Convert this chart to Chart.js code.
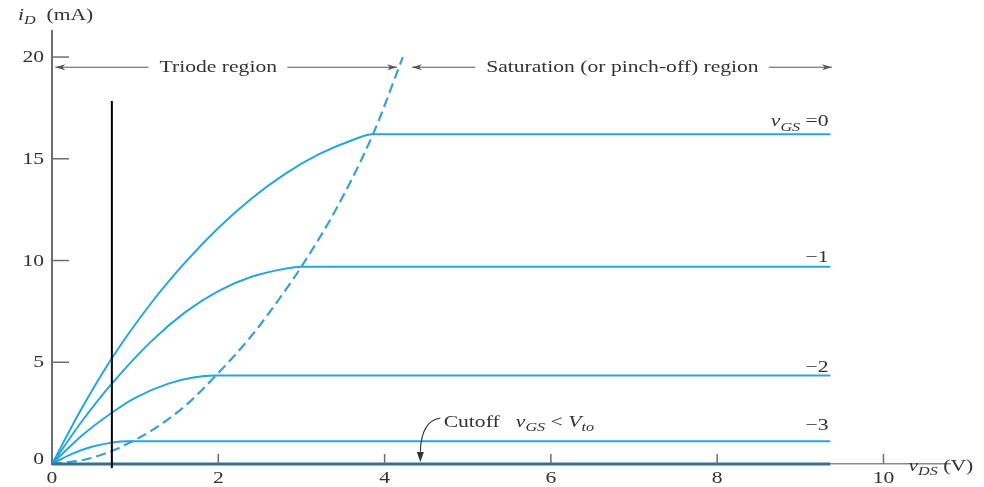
<!DOCTYPE html>
<html>
<head>
<meta charset="utf-8">
<script src="https://cdn.jsdelivr.net/npm/chart.js@4.4.1/dist/chart.umd.min.js"></script>
<style>
  body { margin: 0; background: #fff; }
  #wrap { width: 984px; height: 487px; }
</style>
</head>
<body>
<div id="wrap"><canvas id="fetChart" width="984" height="487"></canvas></div>
<script>
// drain characteristics (vDS in V, iD in mA)
const vgs0V = [0, 0.36, 0.72, 1.2, 1.6, 2.0, 2.4, 2.8, 3.2, 3.6, 3.86, 9.36];
const vgs0I = [0, 2.75, 5.2, 7.95, 9.9, 11.6, 13.05, 14.25, 15.2, 15.9, 16.2, 16.2];

const vgs1V = [0, 0.36, 0.72, 1.2, 1.6, 2.0, 2.4, 2.8, 3.0, 9.36];
const vgs1I = [0, 2.1, 3.95, 6.05, 7.45, 8.5, 9.2, 9.6, 9.7, 9.7];

const vgs2V = [0, 0.36, 0.72, 1.0, 1.4, 1.7, 1.96, 9.36];
const vgs2I = [0, 1.4, 2.52, 3.25, 3.95, 4.25, 4.35, 4.35];

const vgs3V = [0, 0.24, 0.48, 0.72, 0.9, 9.36];
const vgs3I = [0, 0.5, 0.85, 1.05, 1.12, 1.12];

// cutoff (vGS < Vto) lies on the axis
const cutV = [0, 9.36];
const cutI = [0, 0];

// pinch-off boundary (dashed)
const pinchV = [0, 0.4, 0.72, 0.9, 1.2, 1.6, 1.96, 2.4, 2.8, 3.0, 3.4, 3.86, 4.22];
const pinchI = [0, 0.22, 0.64, 0.98, 1.65, 2.85, 4.3, 6.3, 8.5, 9.7, 12.4, 16.2, 20.0];

// black vertical marker
const markV = [0.72, 0.72];
const markI = [-0.2, 17.84];

const xTicks = [0, 2, 4, 6, 8, 10];
const yTicks = [0, 5, 10, 15, 20];

const curveLabels = [['\u22121', 9.93], ['\u22122', 4.52], ['\u22123', 1.67]];

const SERIF = '"Liberation Serif", "DejaVu Serif", serif';
const SX = 1.35;
const TEXT = '#333';

function pts(xs, ys) {
    return xs.map((x, i) => ({ x: x, y: ys[i] }));
}

function fontFor(p, size) {
    const s = p.sub ? Math.round(size * 0.72) : size;
    return (p.italic ? 'italic ' : '') + s + 'px ' + SERIF;
}

// draws text pieces (with subscripts), stretched horizontally like the scan
function richText(ctx, parts, x, y, align, size) {
    ctx.save();
    ctx.translate(x, y);
    ctx.scale(SX, 1);
    ctx.textBaseline = 'alphabetic';
    ctx.textAlign = 'left';
    let total = 0;
    parts.forEach(p => { ctx.font = fontFor(p, size); total += ctx.measureText(p.t).width; });
    let cx = align === 'right' ? -total : (align === 'center' ? -total / 2 : 0);
    parts.forEach(p => {
        ctx.font = fontFor(p, size);
        ctx.fillText(p.t, cx, p.sub ? size * 0.28 : 0);
        cx += ctx.measureText(p.t).width;
    });
    ctx.restore();
}

function arrowHead(ctx, x, y, dir) {
    ctx.beginPath();
    ctx.moveTo(x, y);
    ctx.lineTo(x - dir * 10, y - 3);
    ctx.lineTo(x - dir * 7, y);
    ctx.lineTo(x - dir * 10, y + 3);
    ctx.closePath();
    ctx.fill();
}

function hArrow(ctx, xs, ys, from, to, at) {
    const x1 = xs.getPixelForValue(from);
    const x2 = xs.getPixelForValue(to);
    const y = ys.getPixelForValue(at);
    ctx.beginPath();
    ctx.moveTo(x1, y);
    ctx.lineTo(x2, y);
    ctx.stroke();
    arrowHead(ctx, x2, y, x2 > x1 ? 1 : -1);
}

const decorPlugin = {
    id: 'decor',
    afterDraw(chart) {
        const ctx = chart.ctx;
        const xs = chart.scales.x;
        const ys = chart.scales.y;
        const area = chart.chartArea;
        ctx.save();

        // inner tick marks
        ctx.strokeStyle = '#6e6e6e';
        ctx.lineWidth = 1.5;
        yTicks.slice(1).forEach(v => {
            const y = ys.getPixelForValue(v);
            ctx.beginPath();
            ctx.moveTo(area.left, y);
            ctx.lineTo(area.left + 17, y);
            ctx.stroke();
        });
        xTicks.slice(1).forEach(v => {
            const x = xs.getPixelForValue(v);
            ctx.beginPath();
            ctx.moveTo(x, area.bottom);
            ctx.lineTo(x, area.bottom - 10);
            ctx.stroke();
        });

        // tick labels
        ctx.fillStyle = TEXT;
        yTicks.forEach(v => {
            const off = v === 0 ? 0 : 5;
            richText(ctx, [{ t: String(v) }], area.left - 8, ys.getPixelForValue(v) + off, 'right', 16);
        });
        xTicks.forEach(v => {
            richText(ctx, [{ t: String(v) }], xs.getPixelForValue(v), area.bottom + 19, 'center', 16);
        });

        // axis titles
        richText(ctx, [{ t: 'i', italic: true }, { t: 'D', italic: true, sub: true }, { t: '  (mA)' }],
            area.left - 34, area.top - 11, 'left', 16);
        richText(ctx, [{ t: 'v', italic: true }, { t: 'DS', italic: true, sub: true }, { t: ' (V)' }],
            xs.getPixelForValue(10) + 25, area.bottom + 7, 'left', 16);

        // region arrows
        ctx.strokeStyle = '#555';
        ctx.fillStyle = '#555';
        ctx.lineWidth = 1;
        hArrow(ctx, xs, ys, 1.16, 0.04, 19.5);
        hArrow(ctx, xs, ys, 2.83, 4.15, 19.5);
        hArrow(ctx, xs, ys, 5.09, 4.33, 19.5);
        hArrow(ctx, xs, ys, 8.62, 9.38, 19.5);

        ctx.fillStyle = TEXT;
        const yr = ys.getPixelForValue(19.5) + 5;
        richText(ctx, [{ t: 'Triode region' }], xs.getPixelForValue(2.0), yr, 'center', 16);
        richText(ctx, [{ t: 'Saturation (or pinch-off) region' }], xs.getPixelForValue(6.86), yr, 'center', 16);

        // curve labels
        richText(ctx, [{ t: 'v', italic: true }, { t: 'GS', italic: true, sub: true }, { t: ' =0' }],
            xs.getPixelForValue(9.34), ys.getPixelForValue(16.6), 'right', 16);
        curveLabels.forEach(l => {
            richText(ctx, [{ t: l[0] }], xs.getPixelForValue(9.34), ys.getPixelForValue(l[1]), 'right', 16);
        });

        // cutoff note with curved arrow
        richText(ctx, [{ t: 'Cutoff   ' }, { t: 'v', italic: true }, { t: 'GS', italic: true, sub: true },
            { t: ' < ' }, { t: 'V', italic: true }, { t: 'to', italic: true, sub: true }],
            xs.getPixelForValue(4.71), ys.getPixelForValue(1.83), 'left', 16);
        ctx.strokeStyle = '#333';
        ctx.fillStyle = '#333';
        ctx.lineWidth = 1.2;
        const ax = xs.getPixelForValue(4.43);
        ctx.beginPath();
        ctx.moveTo(xs.getPixelForValue(4.67), ys.getPixelForValue(2.26));
        ctx.quadraticCurveTo(xs.getPixelForValue(4.44), ys.getPixelForValue(2.11), ax, ys.getPixelForValue(0.6));
        ctx.stroke();
        const tip = ys.getPixelForValue(0.1);
        ctx.beginPath();
        ctx.moveTo(ax, tip);
        ctx.lineTo(ax - 3.5, tip - 10);
        ctx.lineTo(ax + 3.5, tip - 10);
        ctx.closePath();
        ctx.fill();

        ctx.restore();
    }
};

const CURVE = '#25a6dd';

function curve(xs, ys, extra) {
    return Object.assign({
        data: pts(xs, ys),
        borderColor: CURVE,
        borderWidth: 2,
        pointRadius: 0,
        fill: false,
        cubicInterpolationMode: 'monotone'
    }, extra || {});
}

const ctx = document.getElementById('fetChart').getContext('2d');
window.fetChart = new Chart(ctx, {
    type: 'line',
    data: {
        datasets: [
            curve(markV, markI, { borderColor: '#000', borderWidth: 2, clip: false, cubicInterpolationMode: 'default' }),
            curve(cutV, cutI, { borderColor: '#36708f', borderWidth: 3, clip: false }),
            curve(pinchV, pinchI, { borderColor: '#3aa0d2', borderWidth: 2.2, borderDash: [10, 5] }),
            curve(vgs0V, vgs0I),
            curve(vgs1V, vgs1I),
            curve(vgs2V, vgs2I),
            curve(vgs3V, vgs3I)
        ]
    },
    options: {
        responsive: false,
        animation: false,
        layout: {
            padding: { top: 31, right: 34, left: 0, bottom: 0 }
        },
        scales: {
            x: {
                type: 'linear',
                min: 0,
                max: 10.8,
                grid: { display: false, drawTicks: false },
                border: { display: true, color: '#8c8c8c', width: 1.5 },
                ticks: { display: false, stepSize: 2 },
                afterFit: scale => { scale.height = 23; }
            },
            y: {
                type: 'linear',
                min: 0,
                max: 21.28,
                grid: { display: false, drawTicks: false },
                border: { display: true, color: '#6e6e6e', width: 2 },
                ticks: { display: false, stepSize: 5 },
                afterFit: scale => { scale.width = 52; }
            }
        },
        plugins: {
            legend: { display: false },
            tooltip: { enabled: false }
        }
    },
    plugins: [decorPlugin]
});
</script>
</body>
</html>
